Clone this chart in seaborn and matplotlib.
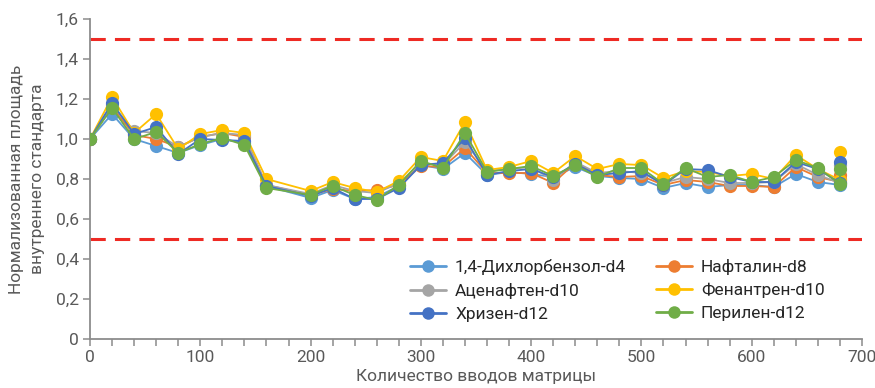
import matplotlib
matplotlib.use("Agg")
import matplotlib.pyplot as plt
import seaborn as sns
import pandas as pd
from matplotlib.ticker import MultipleLocator, FuncFormatter

# Injection count (the last injection was measured twice)
injections = [0, 20, 40, 60, 80, 100, 120, 140, 160, 200, 220, 240, 260, 280, 300,
              320, 340, 360, 380, 400, 420, 440, 460, 480, 500, 520, 540, 560, 580,
              600, 620, 640, 660, 680, 680]

series_names = ["1,4-Дихлорбензол-d4", "Нафталин-d8", "Аценафтен-d10",
                "Фенантрен-d10", "Хризен-d12", "Перилен-d12"]

dichlorobenzene = [1.0, 1.125, 1.0, 0.965, 0.93, 0.97, 1.0, 0.98, 0.765, 0.705, 0.745, 0.70,
                   0.71, 0.765, 0.87, 0.85, 0.93, 0.82, 0.835, 0.825, 0.81, 0.86, 0.815,
                   0.805, 0.80, 0.755, 0.78, 0.76, 0.77, 0.77, 0.76, 0.825, 0.785, 0.77, 0.80]
naphthalene = [1.0, 1.16, 1.02, 1.0, 0.96, 1.01, 1.03, 1.01, 0.77, 0.72, 0.75, 0.74,
               0.745, 0.77, 0.865, 0.86, 0.955, 0.83, 0.83, 0.83, 0.78, 0.88, 0.82,
               0.81, 0.815, 0.77, 0.795, 0.785, 0.765, 0.765, 0.76, 0.86, 0.81, 0.785, 0.82]
acenaphthene = [1.0, 1.17, 1.04, 1.03, 0.96, 1.01, 1.03, 1.02, 0.77, 0.725, 0.77, 0.74,
                0.73, 0.78, 0.88, 0.87, 0.985, 0.84, 0.85, 0.86, 0.795, 0.885, 0.83,
                0.84, 0.83, 0.78, 0.81, 0.80, 0.78, 0.78, 0.785, 0.875, 0.82, 0.78, 0.87]
phenanthrene = [1.0, 1.21, 1.03, 1.125, 0.95, 1.025, 1.045, 1.03, 0.80, 0.74, 0.785, 0.755,
                0.735, 0.79, 0.91, 0.89, 1.085, 0.845, 0.86, 0.89, 0.83, 0.915, 0.85,
                0.875, 0.87, 0.805, 0.84, 0.835, 0.815, 0.825, 0.80, 0.92, 0.85, 0.795, 0.935]
chrysene = [1.0, 1.18, 1.025, 1.06, 0.925, 1.0, 0.995, 0.99, 0.765, 0.715, 0.755, 0.70,
            0.70, 0.755, 0.87, 0.88, 1.005, 0.82, 0.84, 0.85, 0.81, 0.875, 0.82,
            0.83, 0.84, 0.77, 0.85, 0.845, 0.81, 0.785, 0.785, 0.885, 0.85, 0.78, 0.885]
perylene = [1.0, 1.155, 1.0, 1.035, 0.93, 0.975, 1.005, 0.97, 0.755, 0.72, 0.765, 0.72,
            0.695, 0.77, 0.89, 0.855, 1.03, 0.835, 0.85, 0.865, 0.815, 0.87, 0.81,
            0.855, 0.855, 0.775, 0.855, 0.81, 0.82, 0.785, 0.81, 0.895, 0.855, 0.775, 0.85]

limits = [0.5, 1.5]

colors = ["#5B9BD5", "#ED7D31", "#A5A5A5", "#FFC000", "#4472C4", "#70AD47"]

all_values = [dichlorobenzene, naphthalene, acenaphthene, phenanthrene, chrysene, perylene]
frames = []
for name, vals in zip(series_names, all_values):
    frames.append(pd.DataFrame({"x": injections, "y": vals, "series": name}))
df = pd.concat(frames, ignore_index=True)

sns.set_theme(style="white")
plt.rcParams["font.family"] = ["Roboto", "DejaVu Sans"]

text_gray = "#595959"
axis_gray = "#8C8C8C"

fig = plt.figure(figsize=(8.75, 3.88), dpi=100)
ax = fig.add_axes([90 / 875, 1 - 339 / 388, 772 / 875, 320 / 388])

for lim in limits:
    ax.axhline(lim, color="#EE2A24", lw=2.2, ls=(0, (5, 3)), zorder=1)

sns.lineplot(data=df, x="x", y="y", hue="series", hue_order=series_names,
             palette=colors, estimator=None, sort=False, units="series",
             marker="o", markersize=9.5, markeredgewidth=0, linewidth=1.3,
             ax=ax, legend=True, zorder=3)

ax.set_xlim(0, 700)
ax.set_ylim(0, 1.6)
ax.xaxis.set_major_locator(MultipleLocator(100))
ax.xaxis.set_minor_locator(MultipleLocator(20))
ax.yaxis.set_major_locator(MultipleLocator(0.2))


def comma_fmt(v, pos):
    if abs(v) < 1e-9:
        return "0"
    return f"{v:.1f}".replace(".", ",")


ax.yaxis.set_major_formatter(FuncFormatter(comma_fmt))

for side in ["top", "right"]:
    ax.spines[side].set_visible(False)
for side in ["left", "bottom"]:
    ax.spines[side].set_color(axis_gray)
    ax.spines[side].set_linewidth(1.3)

ax.tick_params(axis="both", which="both", direction="out", color=axis_gray,
               width=1.1, labelcolor=text_gray, labelsize=12.5)
ax.tick_params(axis="x", which="major", length=5, bottom=True, pad=3)
ax.tick_params(axis="x", which="minor", length=5, bottom=True)
ax.tick_params(axis="y", which="major", length=5, left=True, pad=3)

ax.set_xlabel("Количество вводов матрицы", color=text_gray, fontsize=12.5, labelpad=3)
ax.set_ylabel("Нормализованная площадь\nвнутреннего стандарта", color=text_gray,
              fontsize=12.5, labelpad=8, linespacing=1.45)

handles, labels = ax.get_legend_handles_labels()
idx = [0, 2, 4, 1, 3, 5]
leg = ax.legend([handles[i] for i in idx], [labels[i] for i in idx], ncol=2,
                frameon=True, facecolor="white", edgecolor="white", framealpha=1,
                loc="upper left", bbox_to_anchor=(396 / 875, 1 - 245 / 388),
                bbox_transform=fig.transFigure, fontsize=12.5, handlelength=2.1,
                handletextpad=0.5, columnspacing=1.7, labelspacing=0.45,
                borderpad=0.3)
for t in leg.get_texts():
    t.set_color("#262626")
for h in leg.legend_handles:
    h.set_markersize(9)
    h.set_linewidth(2)

fig.savefig("out.png", dpi=100)
